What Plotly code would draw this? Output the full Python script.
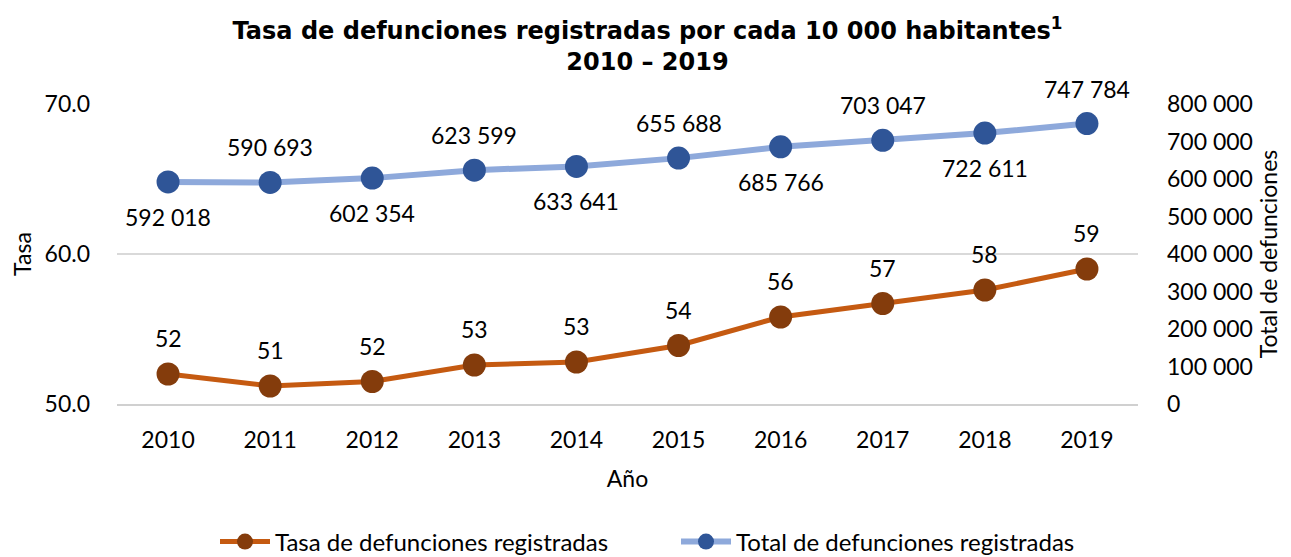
import plotly.graph_objects as go

years = ["2010", "2011", "2012", "2013", "2014", "2015", "2016", "2017", "2018", "2019"]
tasa = [52.0, 51.2, 51.5, 52.6, 52.8, 53.9, 55.8, 56.7, 57.6, 59.0]
total = [592018, 590693, 602354, 623599, 633641, 655688, 685766, 703047, 722611, 747784]
total_label_side = [-1, 1, -1, 1, -1, 1, -1, 1, -1, 1]

FONT = "Lato, 'Open Sans', sans-serif"
fs = 23

# page body has an 8px default margin: figure is sized so the whole thing fits the window
W, H = 1283, 549

fig = go.Figure()
fig.add_trace(go.Scatter(
    x=years, y=tasa, name="Tasa de defunciones registradas", mode="lines+markers",
    line=dict(color="#C55A11", width=5),
    marker=dict(color="#843C0C", size=23),
    yaxis="y", cliponaxis=False,
))
fig.add_trace(go.Scatter(
    x=years, y=total, name="Total de defunciones registradas", mode="lines+markers",
    line=dict(color="#8EA9DB", width=6),
    marker=dict(color="#2F5597", size=23),
    yaxis="y2", cliponaxis=False,
))

for i, v in enumerate(tasa):
    fig.add_annotation(x=i, y=v, xref="x", yref="y", text=f"{v:.0f}", showarrow=False,
                       yshift=36, font=dict(family=FONT, size=fs, color="#000000"))
for i, (v, s) in enumerate(zip(total, total_label_side)):
    lab = f"{v:,}".replace(",", " ")
    fig.add_annotation(x=i, y=v, xref="x", yref="y2", text=lab, showarrow=False,
                       yshift=35 * s, font=dict(family=FONT, size=fs, color="#000000"))

fig.update_layout(
    width=W, height=H,
    separators=". ",
    paper_bgcolor="white", plot_bgcolor="white",
    margin=dict(l=109, r=153, t=96, b=153, autoexpand=False),
    title=dict(
        text="<b>Tasa de defunciones registradas por cada 10 000 habitantes<sup>1</sup><br>2010 – 2019</b>",
        x=639.5 / W, xanchor="center", xref="container",
        y=1 - 31 / H, yanchor="middle", yref="container",
        font=dict(family="'DejaVu Sans', 'Liberation Sans', Arial, sans-serif", size=24, color="#000000"),
    ),
    font=dict(family=FONT, size=fs, color="#000000"),
    xaxis=dict(
        type="category", range=[-0.5, 9.5], showgrid=False, automargin=False,
        showline=True, linecolor="#d0d0d0", linewidth=2,
        ticks="", ticklabelstandoff=14,
        title=dict(text="Año", standoff=19, font=dict(family=FONT, size=fs)),
        tickfont=dict(family=FONT, size=fs),
    ),
    yaxis=dict(
        range=[50, 70], tickvals=[50, 60, 70], tickformat=".1f", automargin=False,
        showgrid=True, gridcolor="#d9d9d9", gridwidth=1.5, zeroline=False,
        ticks="", ticklabelstandoff=26,
        title=dict(text="Tasa", standoff=6, font=dict(family=FONT, size=fs)),
        tickfont=dict(family=FONT, size=fs),
    ),
    yaxis2=dict(
        range=[0, 800000], dtick=100000, tickformat=",.0f", automargin=False,
        overlaying="y", side="right", showgrid=False, zeroline=False,
        ticks="", ticklabelstandoff=28,
        title=dict(text="Total de defunciones", standoff=8, font=dict(family=FONT, size=fs)),
        tickfont=dict(family=FONT, size=fs),
    ),
    legend=dict(
        orientation="h", xref="container", yref="container",
        x=668 / W, xanchor="center", y=1 - 534 / H, yanchor="middle",
        font=dict(family=FONT, size=24), itemwidth=50,
        entrywidth=396, entrywidthmode="pixels",
    ),
    showlegend=True,
)

fig.write_html("out.html")
